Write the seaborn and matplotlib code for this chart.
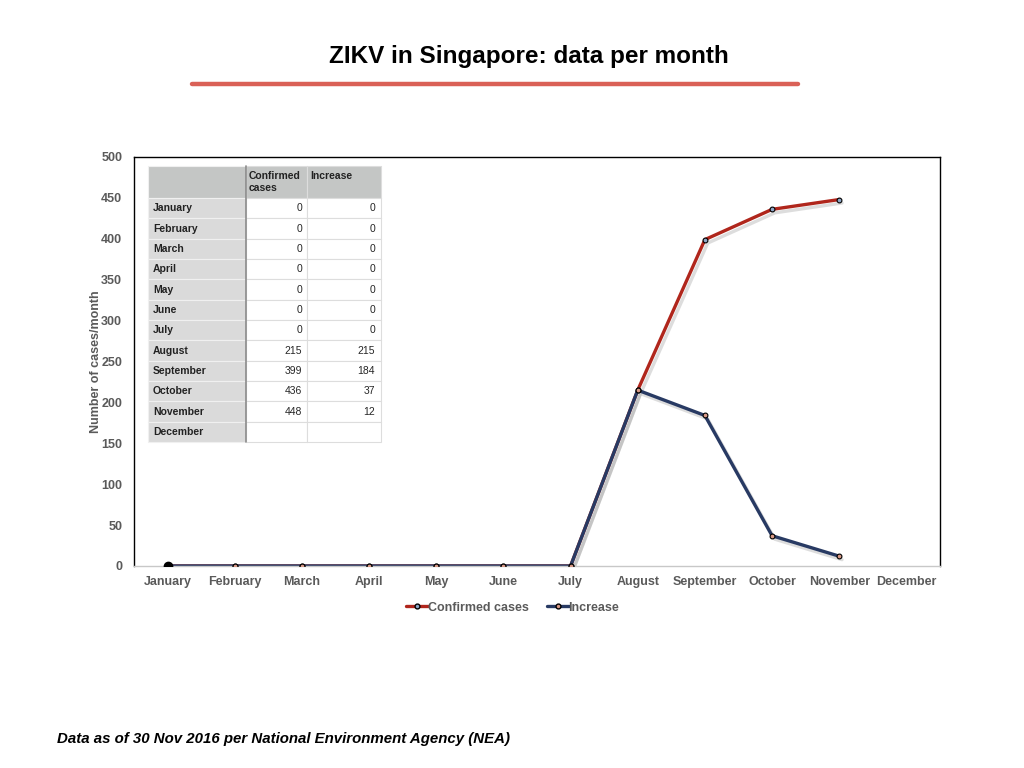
import matplotlib
matplotlib.use('Agg')
import matplotlib.pyplot as plt
import matplotlib.patheffects as pe
from matplotlib.lines import Line2D
import numpy as np
import pandas as pd
import seaborn as sns

months = ['January', 'February', 'March', 'April', 'May', 'June', 'July',
          'August', 'September', 'October', 'November', 'December']
confirmed = [0, 0, 0, 0, 0, 0, 0, 215, 399, 436, 448, np.nan]
increase = [0, 0, 0, 0, 0, 0, 0, 215, 184, 37, 12, np.nan]
series_names = ['Confirmed cases', 'Increase']
table_headers = ['Confirmed\ncases', 'Increase\n']
y_ticks = list(range(0, 501, 50))

title = 'ZIKV in Singapore: data per month'
footnote = 'Data as of 30 Nov 2016 per National Environment Agency (NEA)'

red = '#B0261C'
navy = '#283A63'
gray_txt = '#5A5A5A'

sns.set_theme(style='white')
plt.rcParams['font.family'] = ['Liberation Sans', 'DejaVu Sans']

df = pd.DataFrame({
    'pos': list(range(len(months))) * 2,
    'value': confirmed + increase,
    'series': [series_names[0]] * len(months) + [series_names[1]] * len(months),
})

fig = plt.figure(figsize=(10.24, 7.68), dpi=100)
ax = fig.add_axes([134 / 1024, 1 - 566 / 768, 806 / 1024, 409 / 768])

shadow = [pe.SimpleLineShadow(offset=(2, -2.5), shadow_color='#909090', alpha=0.3),
          pe.Normal()]
sns.lineplot(data=df.dropna(), x='pos', y='value', hue='series',
             palette=[red, navy], linewidth=2.4, ax=ax, legend=False,
             sort=False)
for line in ax.get_lines():
    line.set_path_effects(shadow)

# point markers on top of the lines
sub_c = df[df['series'] == series_names[0]].dropna()
sub_i = df[df['series'] == series_names[1]].dropna()
ax.scatter(sub_c['pos'], sub_c['value'], s=12, color='#8FA8C8',
           edgecolor='black', linewidth=0.8, zorder=5)
ax.scatter(sub_i['pos'], sub_i['value'], s=12, color='#D99A88',
           edgecolor='black', linewidth=0.8, zorder=6)
ax.scatter(sub_i['pos'].iloc[:1], sub_i['value'].iloc[:1], s=36,
           color='black', zorder=7)

ax.set_xlim(-0.5, len(months) - 0.5)
ax.set_ylim(0, 500)
ax.set_xticks(range(len(months)))
ax.set_xticklabels(months)
ax.set_yticks(y_ticks)
ax.tick_params(axis='both', length=0, labelsize=9, labelcolor=gray_txt)
for lab in ax.get_xticklabels() + ax.get_yticklabels():
    lab.set_fontweight('bold')
for lab in ax.get_xticklabels():
    lab.set_va('baseline')
ax.tick_params(axis='x', pad=14)
ax.tick_params(axis='y', pad=8.5)
ax.set_xlabel('')
ax.set_ylabel('Number of cases/month', fontsize=9, fontweight='bold',
              color=gray_txt, labelpad=-1)
for side in ['left', 'top', 'right']:
    ax.spines[side].set_color('black')
    ax.spines[side].set_linewidth(1.0)
ax.spines['bottom'].set_color('#C8C8C8')
ax.spines['bottom'].set_linewidth(1.0)
ax.grid(False)

# data table inside the plot
def fmt(v):
    return '' if np.isnan(v) else f'{int(v)}'

cell_text = [[fmt(c), fmt(i)] for c, i in zip(confirmed, increase)]
tbl = ax.table(cellText=cell_text, rowLabels=None,
               colLabels=table_headers,
               colWidths=[61, 74], cellLoc='right', colLoc='left',
               bbox=[(148 - 134 + 98) / 806, (566 - 442) / 409,
                     135 / 806, 276 / 409])
tbl.auto_set_font_size(False)
tbl.set_fontsize(7.5)
for (r, c), cell in tbl.get_celld().items():
    cell.set_edgecolor('#DDDDDD')
    cell.set_linewidth(0.8)
    cell.set_height(32 if r == 0 else 20.3)
    if r == 0:
        cell.set_facecolor('#C4C6C5')
        cell.get_text().set_fontweight('bold')
        cell.get_text().set_color('#222222')
        cell.get_text().set_linespacing(1.15)
        cell.PAD = 0.04
    else:
        cell.set_facecolor('white')
        cell.PAD = 0.08

# row label column drawn as a second table
lab_text = [['']] + [[m] for m in months]
tbl2 = ax.table(cellText=lab_text, colWidths=[98], cellLoc='left',
                bbox=[(148 - 134) / 806, (566 - 442) / 409,
                      98 / 806, 276 / 409])
tbl2.auto_set_font_size(False)
tbl2.set_fontsize(7.5)
for (r, c), cell in tbl2.get_celld().items():
    cell.set_height(32 if r == 0 else 20.3)
    cell.set_edgecolor('#F0F0F0')
    cell.set_linewidth(0.8)
    cell.get_text().set_fontweight('bold')
    cell.get_text().set_color('#222222')
    cell.set_facecolor('#C4C6C5' if r == 0 else '#DADADA')
    cell.PAD = 0.05
ax.plot([(246 - 134) / 806] * 2, [(566 - 442) / 409, (566 - 166) / 409],
        transform=ax.transAxes, color='#8A8A8A', linewidth=1.2, zorder=10)

# legend below the axes
handles = [Line2D([], [], color=red, linewidth=2.4, marker='o', markersize=3.5,
                  markerfacecolor='#8FA8C8', markeredgecolor='black'),
           Line2D([], [], color=navy, linewidth=2.4, marker='o', markersize=3.5,
                  markerfacecolor='#D99A88', markeredgecolor='black')]
leg = ax.legend(handles, series_names, loc='upper center',
                bbox_to_anchor=(0.47, -0.06), ncol=2, frameon=False,
                handlelength=1.7, handletextpad=0.0, columnspacing=1.5,
                prop={'size': 9, 'weight': 'bold'})
for t in leg.get_texts():
    t.set_color(gray_txt)

fig.text(0.516, 0.927, title, ha='center', va='center', fontsize=17.5,
         fontweight='bold', color='black')
fig.add_artist(Line2D([192 / 1024, 798 / 1024], [1 - 84 / 768] * 2,
                      color='#DA6157', linewidth=3.2))
fig.text(57 / 1024, 1 - 739 / 768, footnote, ha='left', va='center',
         fontsize=10.8, fontweight='bold', fontstyle='italic', color='black')

fig.savefig('out.png', dpi=100)
